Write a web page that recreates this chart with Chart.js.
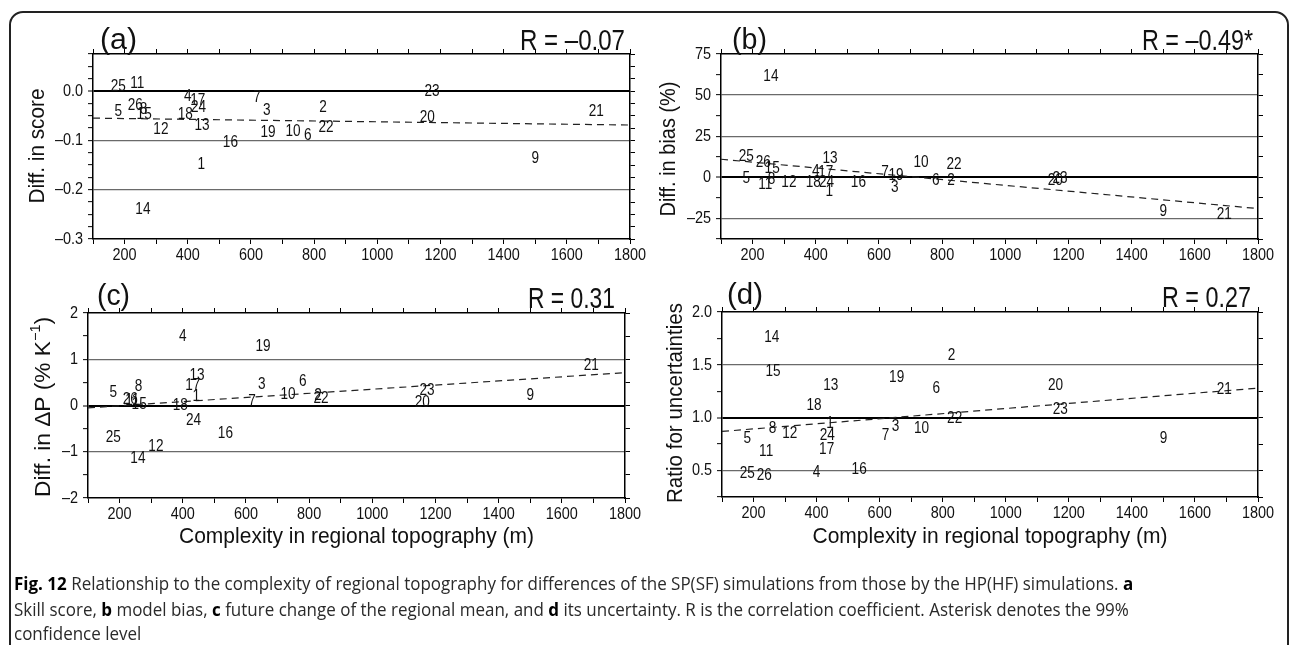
<!DOCTYPE html>
<html>
<head>
<meta charset="utf-8">
<script src="https://cdn.jsdelivr.net/npm/chart.js@4.4.1/dist/chart.umd.min.js"></script>
<style>
html, body { margin: 0; padding: 0; background: #fff; }
body { width: 1292px; height: 645px; position: relative; overflow: hidden; }
canvas { position: absolute; left: 0; top: 0; }
#frame { position: absolute; left: 9px; top: 11px; width: 1280px; height: 720px; border: 2px solid #222; border-radius: 14px; box-sizing: border-box; }
.cap { position: absolute; left: 14px; white-space: nowrap; font-family: "Open Sans", "Noto Sans", sans-serif; font-size: 18px; line-height: 24px; color: #2a2a2a; transform-origin: 0 50%; }
.cap b { color: #000; }
</style>
</head>
<body>
<div id="frame"></div>
<canvas id="pa" width="1292" height="645"></canvas>
<canvas id="pb" width="1292" height="645"></canvas>
<canvas id="pc" width="1292" height="645"></canvas>
<canvas id="pd" width="1292" height="645"></canvas>
<div class="cap" id="cap1" style="top:571px"><b>Fig. 12</b> Relationship to the complexity of regional topography for differences of the SP(SF) simulations from those by the HP(HF) simulations. <b>a</b></div>
<div class="cap" id="cap2" style="top:597px">Skill score, <b>b</b> model bias, <b>c</b> future change of the regional mean, and <b>d</b> its uncertainty. R is the correlation coefficient. Asterisk denotes the 99%</div>
<div class="cap" id="cap3" style="top:621px">confidence level</div>
<script>
// data (regions 1..26)

const regionIds = ['1','2','3','4','5','6','7','8','9','10','11','12','13','14','15','16','17','18','19','20','21','22','23','24','25','26'];
const complexity = [443, 828, 650, 400, 180, 780, 619, 260, 1500, 733, 240, 315, 445, 258, 262, 535, 432, 392, 654, 1158, 1693, 838, 1173, 434, 180, 234];

const diffScore = [-0.15, -0.033, -0.04, -0.012, -0.042, -0.091, -0.014, -0.038, -0.138, -0.083, 0.016, -0.079, -0.071, -0.241, -0.048, -0.104, -0.02, -0.047, -0.085, -0.053, -0.041, -0.075, -0.002, -0.033, 0.008, -0.03];
const diffBias = [-8.5, -1.8, -6, 3.6, -0.5, -2, 3, -1.2, -21, 9, -4.2, -3, 11.5, 61, 5.5, -3, 3, -3, 1.2, -2, -22.5, 8, -1, -3, 12.8, 9];
const diffDeltaP = [0.19, 0.22, 0.45, 1.49, 0.27, 0.52, 0.08, 0.41, 0.21, 0.23, 0.1, -0.89, 0.64, -1.15, 0.03, -0.61, 0.43, 0.0, 1.27, 0.06, 0.86, 0.15, 0.32, -0.33, -0.69, 0.12];
const ratioUnc = [0.94, 1.59, 0.92, 0.48, 0.80, 1.28, 0.83, 0.90, 0.80, 0.90, 0.68, 0.85, 1.30, 1.76, 1.44, 0.51, 0.70, 1.11, 1.38, 1.30, 1.27, 0.99, 1.08, 0.83, 0.47, 0.45];

// regression lines, end points at x = 100 and 1800
const trendX = [100, 1800];
const trendScore = [-0.055, -0.069];
const trendBias = [11, -19];
const trendDeltaP = [-0.05, 0.71];
const trendRatio = [0.87, 1.28];

const panelTags = ['(a)', '(b)', '(c)', '(d)'];
const rTexts = ['R = \u20130.07', 'R = \u20130.49*', 'R = 0.31', 'R = 0.27'];
const yTitles = [['Diff. in score'], ['Diff. in bias (%)'], ['Diff. in \u0394P (% K', '\u22121', ')'], ['Ratio for uncertainties']];
const xTitle = 'Complexity in regional topography (m)';

const FONT = '"Liberation Sans", Arial, Helvetica, sans-serif';
const INK = '#111';

// panel layout

const panels = [
    {id: 'pa', vals: diffScore, trend: trendScore, box: {l: 93, t: 54, r: 630, b: 239},
     yMin: -0.3, yMax: 0.075, yStep: 0.025, yLab: 0.1, dec: 1, strong: 0,
     tagX: 100, tagY: 49, tagW: 37, rX: 625, rY: 50, rW: 105,
     titleX: 38, titleY: 146, titleW: 115, xTitle: false},
    {id: 'pb', vals: diffBias, trend: trendBias, box: {l: 721, t: 54, r: 1258, b: 239},
     yMin: -37.5, yMax: 75, yStep: 12.5, yLab: 25, dec: 0, strong: 0,
     tagX: 732, tagY: 49, tagW: 35, rX: 1253, rY: 50, rW: 111,
     titleX: 669, titleY: 149, titleW: 135, xTitle: false},
    {id: 'pc', vals: diffDeltaP, trend: trendDeltaP, box: {l: 88, t: 313, r: 625, b: 498},
     yMin: -2, yMax: 2, yStep: 0.5, yLab: 1, dec: 0, strong: 0,
     tagX: 97, tagY: 305, tagW: 33, rX: 615, rY: 308, rW: 87,
     titleX: 44, titleY: 407, titleW: 180, xTitle: true},
    {id: 'pd', vals: ratioUnc, trend: trendRatio, box: {l: 722, t: 312, r: 1258, b: 497},
     yMin: 0.25, yMax: 2.0, yStep: 0.25, yLab: 0.5, dec: 1, strong: 1,
     tagX: 727, tagY: 304, tagW: 36, rX: 1251, rY: 307, rW: 89,
     titleX: 676, titleY: 403, titleW: 200, xTitle: true}
];

// text helpers (condensed Helvetica look)

function textAt(ctx, text, x, y, size, sx, align, baseline) {
    ctx.save();
    ctx.font = size + 'px ' + FONT;
    ctx.fillStyle = INK;
    ctx.textBaseline = baseline || 'middle';
    ctx.textAlign = 'left';
    const w = ctx.measureText(text).width * sx;
    const x0 = align === 'center' ? x - w / 2 : (align === 'right' ? x - w : x);
    ctx.translate(x0, y);
    ctx.scale(sx, 1);
    ctx.fillText(text, 0, 0);
    ctx.restore();
}

function textFit(ctx, text, x, y, size, width, align, baseline) {
    ctx.save();
    ctx.font = size + 'px ' + FONT;
    const sx = width / ctx.measureText(text).width;
    ctx.restore();
    textAt(ctx, text, x, y, size, sx, align, baseline);
}

function drawYTitle(ctx, parts, cx, cy, width) {
    ctx.save();
    ctx.fillStyle = INK;
    ctx.textBaseline = 'middle';
    ctx.translate(cx, cy);
    ctx.rotate(-Math.PI / 2);
    const sizes = [22, 14, 22];
    const widths = parts.map((t, i) => { ctx.font = sizes[i] + 'px ' + FONT; return ctx.measureText(t).width; });
    const total = widths.reduce((a, b) => a + b, 0);
    ctx.scale(width / total, 1);
    let x = -total / 2;
    parts.forEach((t, i) => {
        ctx.font = sizes[i] + 'px ' + FONT;
        ctx.fillText(t, x, i === 1 ? -8 : 0);
        x += widths[i];
    });
    ctx.restore();
}

function isMult(v, step) {
    return Math.abs(v / step - Math.round(v / step)) < 1e-6;
}

function fmtY(v, dec) {
    if (Math.abs(v) < 1e-9) v = 0;
    return v.toFixed(dec).replace('-', '\u2013');
}

function zeroFit(s) {
    if (s.isHorizontal()) s.height = 0; else s.width = 0;
    s.paddingLeft = 0; s.paddingRight = 0; s.paddingTop = 0; s.paddingBottom = 0;
}

// plugin: point numbers, tick labels, panel texts

function textPlugin(p, k) {
    return {
        id: 'panelText' + k,
        afterDraw(chart) {
            const ctx = chart.ctx;
            const xs = chart.scales.x, ys = chart.scales.y;

            const meta = chart.getDatasetMeta(0);
            meta.data.forEach((el, i) => {
                textAt(ctx, regionIds[i], el.x, el.y, 16, 0.85, 'center', 'middle');
            });

            xs.ticks.forEach(t => {
                if (isMult(t.value, 200) && t.value >= 200) {
                    textAt(ctx, String(Math.round(t.value)), xs.getPixelForValue(t.value), p.box.b + 16, 17, 0.85, 'center', 'middle');
                }
            });
            ys.ticks.forEach(t => {
                if (isMult(t.value, p.yLab)) {
                    textAt(ctx, fmtY(t.value, p.dec), p.box.l - 10, ys.getPixelForValue(t.value), 17, 0.85, 'right', 'middle');
                }
            });

            textFit(ctx, panelTags[k], p.tagX, p.tagY, 29, p.tagW, 'left', 'alphabetic');
            textFit(ctx, rTexts[k], p.rX, p.rY, 29, p.rW, 'right', 'alphabetic');
            drawYTitle(ctx, yTitles[k], p.titleX, p.titleY, p.titleW);
            if (p.xTitle) {
                textFit(ctx, xTitle, (p.box.l + p.box.r) / 2, 537, 22, 355, 'center', 'middle');
            }
        }
    };
}

function axis(position, min, max, step, onArea) {
    return {
        type: 'linear', position: position, min: min, max: max,
        ticks: {stepSize: step, display: false},
        grid: {drawOnChartArea: onArea, drawTicks: true, tickLength: 5, tickColor: '#000', tickWidth: 1},
        border: {display: true, color: '#000', width: 1.5},
        afterFit: zeroFit
    };
}

panels.forEach((p, k) => {
    const yAxis = axis('left', p.yMin, p.yMax, p.yStep, true);
    yAxis.grid.color = c => {
        const v = c.tick.value;
        if (Math.abs(v - p.yMin) < 1e-9 || Math.abs(v - p.yMax) < 1e-9) return 'rgba(0,0,0,0)';
        if (!isMult(v, p.yLab)) return 'rgba(0,0,0,0)';
        return Math.abs(v - p.strong) < 1e-9 ? '#000' : '#6a6a6a';
    };
    yAxis.grid.lineWidth = c => Math.abs(c.tick.value - p.strong) < 1e-9 ? 2 : 1.3;

    new Chart(document.getElementById(p.id), {
        type: 'scatter',
        data: {
            datasets: [{
                data: complexity.map((x, i) => ({x: x, y: p.vals[i]})),
                pointRadius: 0,
                pointHoverRadius: 0
            }, {
                data: trendX.map((x, i) => ({x: x, y: p.trend[i]})),
                showLine: true,
                borderColor: '#222',
                borderWidth: 1.2,
                borderDash: [7, 5],
                pointRadius: 0
            }]
        },
        options: {
            responsive: false,
            animation: false,
            devicePixelRatio: 1,
            events: [],
            layout: {padding: {left: p.box.l, top: p.box.t, right: 1292 - p.box.r, bottom: 645 - p.box.b}},
            scales: {
                x: axis('bottom', 100, 1800, 100, false),
                x2: axis('top', 100, 1800, 100, false),
                y: yAxis,
                y2: axis('right', p.yMin, p.yMax, p.yStep, false)
            },
            plugins: {
                legend: {display: false},
                tooltip: {enabled: false}
            }
        },
        plugins: [textPlugin(p, k)]
    });
});

// caption: squeeze to the reference line length
const cap1 = document.getElementById('cap1');
const sx = 1119 / cap1.scrollWidth;
['cap1', 'cap2', 'cap3'].forEach(id => {
    document.getElementById(id).style.transform = 'scaleX(' + sx + ')';
});
</script>
</body>
</html>
